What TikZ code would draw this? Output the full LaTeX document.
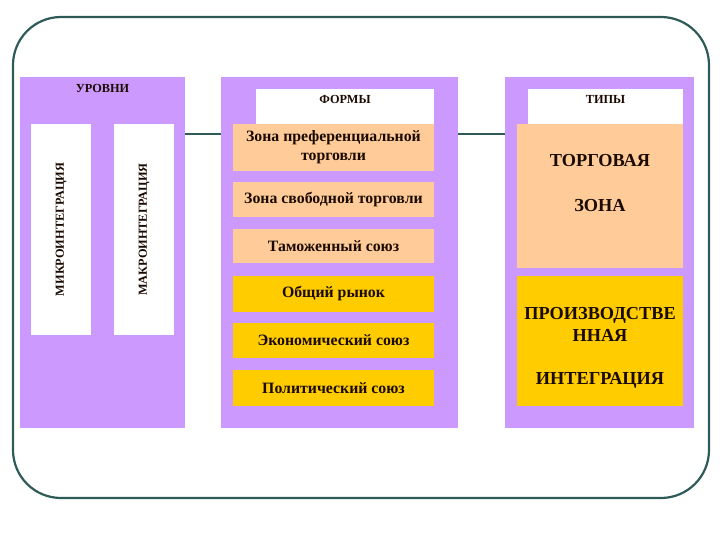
\documentclass[tikz,border=0pt]{standalone}
\usepackage{fontspec}
\setmainfont{Liberation Serif}
\usepackage{tikz}
\usetikzlibrary{positioning,calc}
\definecolor{panelviolet}{HTML}{CC99FF}
\definecolor{boxpeach}{HTML}{FFCC99}
\definecolor{boxgold}{HTML}{FFCC00}
\definecolor{frameteal}{HTML}{2E5A57}
\definecolor{inkbrown}{HTML}{1A0A00}

\begin{document}
\begin{tikzpicture}[x=1pt, y=-1pt,
  panel/.style={rectangle, fill=panelviolet, inner sep=0pt},
  strip/.style={rectangle, fill=white, minimum width=60pt,
    minimum height=211pt, inner sep=0pt},
  head/.style={rectangle, fill=white, minimum height=35pt,
    inner sep=0pt},
  formbox/.style={rectangle, minimum width=201pt, inner sep=0pt,
    align=center, text=inkbrown,
    font=\bfseries\fontsize{15.8}{19}\selectfont},
  lbl/.style={font=\bfseries\fontsize{12.3}{14}\selectfont,
    text=inkbrown, inner sep=0pt},
  typelbl/.style={font=\bfseries\fontsize{18.3}{22}\selectfont,
    text=inkbrown, align=center, inner sep=0pt}
]
\useasboundingbox (0,0) rectangle (720,540);

% Outer frame
\draw[frameteal, line width=2.2pt, rounded corners=48pt]
  (13,17) rectangle (709,498);

% Panel 1: levels
\node[panel, minimum width=165pt, minimum height=351pt] (P1) at (102.5,252.5) {};
\node[lbl, below=7pt of P1.north] (L1) {УРОВНИ};
\node[strip] (SMicro) at (61,229.5) {};
\node[strip] (SMacro) at (144,229.5) {};
\node[lbl, rotate=90] (LMicro) at (SMicro) {МИКРОИНТЕГРАЦИЯ};
\node[lbl, rotate=90] (LMacro) at (SMacro) {МАКРОИНТЕГРАЦИЯ};

% Panel 2: forms
\node[panel, minimum width=237pt, minimum height=351pt] (P2) at (339.5,252.5) {};
\node[head, minimum width=178pt] (H2) at (345,106.5) {};
\node[lbl, below=6pt of H2.north] (L2) {ФОРМЫ};
\node[formbox, fill=boxpeach, minimum height=47pt] (F1) at (333.5,147.5)
  {Зона преференциальной\\торговли};
\node[formbox, fill=boxpeach, minimum height=35pt] (F2) at (333.5,199.5)
  {Зона свободной торговли};
\node[formbox, fill=boxpeach, minimum height=34pt] (F3) at (333.5,246)
  {Таможенный союз};
\node[formbox, fill=boxgold, minimum height=36pt] (F4) at (333.5,294)
  {Общий рынок};
\node[formbox, fill=boxgold, minimum height=35pt] (F5) at (333.5,340.5)
  {Экономический союз};
\node[formbox, fill=boxgold, minimum height=36pt] (F6) at (333.5,388)
  {Политический союз};

% Panel 3: types
\node[panel, minimum width=189pt, minimum height=351pt] (P3) at (599.5,252.5) {};
\node[head, minimum width=155pt] (H3) at (605.5,106.5) {};
\node[lbl, below=6pt of H3.north] (L3) {ТИПЫ};
\node[rectangle, fill=boxpeach, minimum width=166pt, minimum height=144pt,
  inner sep=0pt] (T1) at (600,196) {};
\node[typelbl] (LT1) at (600,183.5) {ТОРГОВАЯ\\[23pt]ЗОНА};
\node[rectangle, fill=boxgold, minimum width=166pt, minimum height=130pt,
  inner sep=0pt] (T2) at (600,341) {};
\node[typelbl] (LT2) at (600,347.5) {ПРОИЗВОДСТВЕ\\ННАЯ\\[21pt]ИНТЕГРАЦИЯ};

% Connectors
\draw[frameteal, line width=2pt] (P1.east |- 0,134) -- (P2.west |- 0,134);
\draw[frameteal, line width=2pt] (P2.east |- 0,134) -- (P3.west |- 0,134);
\end{tikzpicture}
\end{document}
